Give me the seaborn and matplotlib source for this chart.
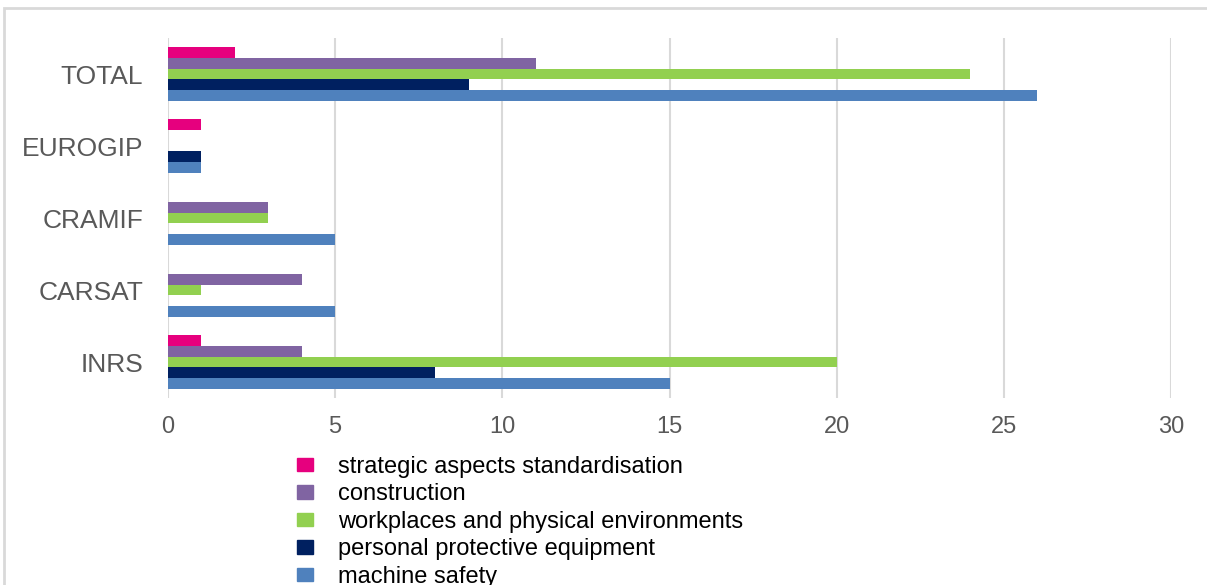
import matplotlib.pyplot as plt
import matplotlib.patches as mpatches
import pandas as pd
import seaborn as sns

sns.set_style("white")
plt.rcParams["font.family"] = ["Liberation Sans", "DejaVu Sans"]

# Data
categories = ["TOTAL", "EUROGIP", "CRAMIF", "CARSAT", "INRS"]
series_names = [
    "strategic aspects standardisation",
    "construction",
    "workplaces and physical environments",
    "personal protective equipment",
    "machine safety",
]
strategic = [2, 1, 0, 0, 1]
construction = [11, 0, 3, 4, 4]
workplaces = [24, 0, 3, 1, 20]
ppe = [9, 1, 0, 0, 8]
machine = [26, 1, 5, 5, 15]
x_ticks = [0, 5, 10, 15, 20, 25, 30]

colors = ["#E6007E", "#8064A2", "#92D050", "#002060", "#4F81BD"]

rows = []
for name, vals in zip(series_names, [strategic, construction, workplaces, ppe, machine]):
    for cat, v in zip(categories, vals):
        rows.append({"Category": cat, "Series": name, "Value": v})
df = pd.DataFrame(rows)

fig = plt.figure(figsize=(12.07, 5.85), dpi=100)
ax = fig.add_axes([168 / 1207, 1 - 398 / 585, (1171 - 168) / 1207, (398 - 38) / 585])

sns.barplot(
    data=df, x="Value", y="Category", hue="Series",
    order=categories, hue_order=series_names,
    palette=colors, saturation=1, orient="h", width=0.74,
    linewidth=0, errorbar=None, legend=False, ax=ax,
)

ax.set_xlim(0, 30)
ax.set_ylim(4.5, -0.5)
ax.set_xticks(x_ticks)
ax.set_xlabel("")
ax.set_ylabel("")
ax.grid(axis="x", color="#d9d9d9", linewidth=1.5)
ax.set_axisbelow(True)
for s in ax.spines.values():
    s.set_visible(False)
ax.tick_params(axis="both", length=0, colors="#595959")
ax.tick_params(axis="y", labelsize=19, pad=18)
ax.tick_params(axis="x", labelsize=17, pad=13)

# legend below the plot (the reference cuts its last entry at the bottom edge)
handles = [mpatches.Patch(color=c, label=n) for c, n in zip(colors, series_names)]
fig.legend(
    handles=handles, loc="upper left",
    bbox_to_anchor=(297 / 1207, 1 - 456 / 585),
    frameon=False, fontsize=17, labelspacing=0.23,
    handlelength=0.68, handleheight=0.5, handletextpad=1.06,
    borderaxespad=0, borderpad=0, labelcolor="black",
)

# light grey frame around the chart area
frame = mpatches.Rectangle(
    (4 / 1207, -0.1), 1.2, 1.1 - 8 / 585,
    transform=fig.transFigure, fill=False,
    edgecolor="#d9d9d9", linewidth=2, clip_on=False,
)
fig.patches.append(frame)

fig.savefig("out.png", dpi=100)
